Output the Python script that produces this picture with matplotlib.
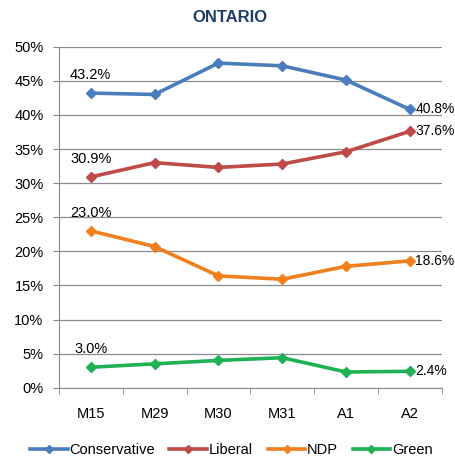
import matplotlib
matplotlib.use("Agg")
import matplotlib.pyplot as plt
import numpy as np

plt.rcParams['font.family'] = ['Liberation Sans', 'DejaVu Sans']

# === Datos ===
periodos = ["M15", "M29", "M30", "M31", "A1", "A2"]
conservative = [43.2, 43.0, 47.6, 47.2, 45.1, 40.8]
liberal = [30.9, 33.0, 32.3, 32.8, 34.6, 37.6]
ndp = [23.0, 20.7, 16.4, 15.9, 17.8, 18.6]
green = [3.0, 3.5, 4.0, 4.4, 2.3, 2.4]

series = [
    ("Conservative", conservative, "#4a7ebb"),
    ("Liberal", liberal, "#be4b48"),
    ("NDP", ndp, "#f07f1e"),
    ("Green", green, "#1fb254"),
]

fig = plt.figure(figsize=(4.56, 4.58), dpi=100)
ax = fig.add_axes([0.129, 0.1535, 0.84, 0.7445])

x = np.arange(len(periodos))
for nombre, valores, color in series:
    ax.plot(x, valores, color=color, lw=2.6, marker="D", ms=5.5, label=nombre)
    # etiquetas primer y ultimo punto
    ax.annotate(f"{valores[0]:.1f}%", (x[0], valores[0]), xytext=(0, 8),
                textcoords="offset points", ha="center", va="bottom", fontsize=10.5)
    ax.annotate(f"{valores[-1]:.1f}%", (x[-1], valores[-1]), xytext=(4, 0),
                textcoords="offset points", ha="left", va="center", fontsize=10)

ax.set_xlim(-0.5, len(periodos) - 0.5)
ax.set_ylim(0, 50)
ax.set_yticks(np.arange(0, 51, 5))
ax.set_yticklabels([f"{v}%" for v in range(0, 51, 5)], fontsize=10.5)
ax.set_xticks(x)
ax.set_xticklabels(periodos, fontsize=10.5)
ax.set_xticks(np.arange(-0.5, len(periodos)), minor=True)
ax.tick_params(axis="x", which="major", length=0, pad=14)
ax.tick_params(axis="x", which="minor", length=4, color="#898989", direction="out")
ax.tick_params(axis="y", length=4, color="#898989", pad=7)

ax.grid(axis="y", color="#8c8c8c", lw=0.9)
ax.set_axisbelow(True)
for lado in ["top", "right"]:
    ax.spines[lado].set_visible(False)
ax.spines["left"].set_color("#898989")
ax.spines["bottom"].set_color("#898989")

fig.text(0.505, 0.962, "ONTARIO", ha="center", va="center", fontsize=12,
         fontweight="bold", color="#1f3d6b")

fig.legend(loc="center", bbox_to_anchor=(0.507, 0.018), ncol=4, frameon=False,
           fontsize=10.5, handlelength=2.6, handletextpad=0.1, columnspacing=1.0,
           markerscale=0.8)

fig.savefig("out.png", dpi=100)
